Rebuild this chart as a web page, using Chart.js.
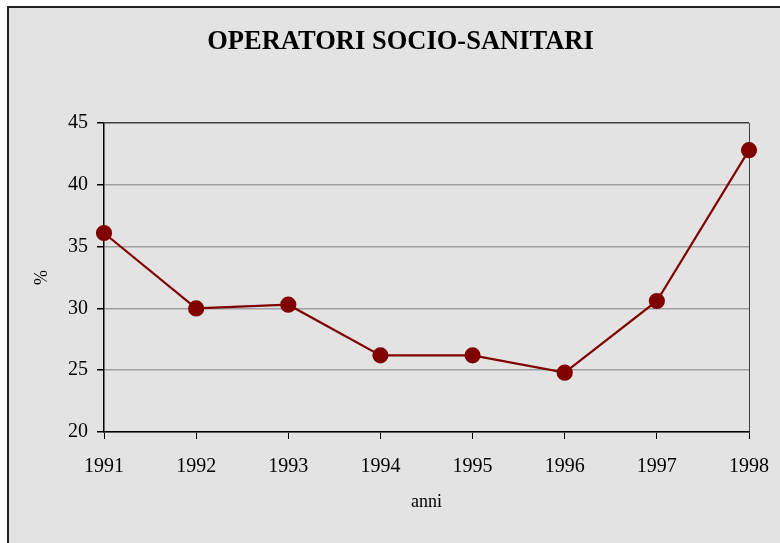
<!DOCTYPE html>
<html>
<head>
<meta charset="utf-8">
<script src="https://cdn.jsdelivr.net/npm/chart.js@4"></script>
<style>
  html, body { margin: 0; padding: 0; background: #fff; overflow: hidden; }
  #frame {
    position: absolute; left: 7px; top: 6px; width: 800px; height: 560px;
    background: #e3e3e3; border: 2px solid #222;
  }
  #wrap { position: absolute; left: 0; top: 0; width: 780px; height: 543px; }
</style>
</head>
<body>
<div id="frame"></div>
<div id="wrap"><canvas id="lineChart" width="780" height="543"></canvas></div>
<script>
// dati
const anni = ['1991', '1992', '1993', '1994', '1995', '1996', '1997', '1998'];
const percentuali = [36.1, 30.0, 30.3, 26.2, 26.2, 24.8, 30.6, 42.8];
const yTicks = [20, 25, 30, 35, 40, 45];

const serif = "'Liberation Serif', 'Times New Roman', serif";

document.addEventListener('DOMContentLoaded', function() {
    const ctx = document.getElementById('lineChart').getContext('2d');

    new Chart(ctx, {
        type: 'line',
        data: {
            labels: anni,
            datasets: [{
                data: percentuali,
                borderColor: '#800000',
                backgroundColor: '#800000',
                borderWidth: 2.2,
                pointRadius: 7,
                pointHoverRadius: 7,
                tension: 0,
                clip: false
            }]
        },
        options: {
            responsive: false,
            animation: false,
            devicePixelRatio: 1,
            // padding sinistro per centrare il titolo come nell'originale
            layout: { padding: { left: 52, right: 31, top: 0, bottom: 0 } },
            plugins: {
                legend: { display: false },
                tooltip: { enabled: false },
                title: {
                    display: true,
                    text: 'OPERATORI SOCIO-SANITARI',
                    color: '#000',
                    font: { family: serif, size: 26.5, weight: 'bold', lineHeight: 1.2 },
                    padding: { top: 26, bottom: 65.2 }
                }
            },
            scales: {
                x: {
                    offset: false,
                    border: { color: '#000', width: 1.5 },
                    grid: {
                        color: c => c.index === anni.length - 1 ? '#404040' : 'rgba(0,0,0,0)',
                        tickColor: '#000',
                        tickLength: 7,
                        lineWidth: 1
                    },
                    ticks: { color: '#000', font: { family: serif, size: 20 }, padding: 16, maxRotation: 0 },
                    title: { display: true, text: 'anni', color: '#000', font: { family: serif, size: 18 }, padding: { top: 0, bottom: 30.2 } },
                    afterFit: s => { s.height = 111; s.paddingLeft = 0; s.paddingRight = 0; }
                },
                y: {
                    min: 20,
                    max: 45,
                    afterBuildTicks: s => { s.ticks = yTicks.map(v => ({ value: v })); },
                    border: { color: '#000', width: 1.5 },
                    grid: {
                        color: c => c.tick && c.tick.value === 45 ? '#404040' : '#a0a0a0',
                        tickColor: '#000',
                        tickLength: 7,
                        lineWidth: 1.5
                    },
                    ticks: { color: '#000', font: { family: serif, size: 20 }, padding: 9 },
                    title: { display: true, text: '%', color: '#000', font: { family: serif, size: 18 }, padding: { top: -20.8, bottom: 0 } },
                    afterFit: s => { s.width = 52; }
                }
            }
        }
    });
});
</script>
</body>
</html>
